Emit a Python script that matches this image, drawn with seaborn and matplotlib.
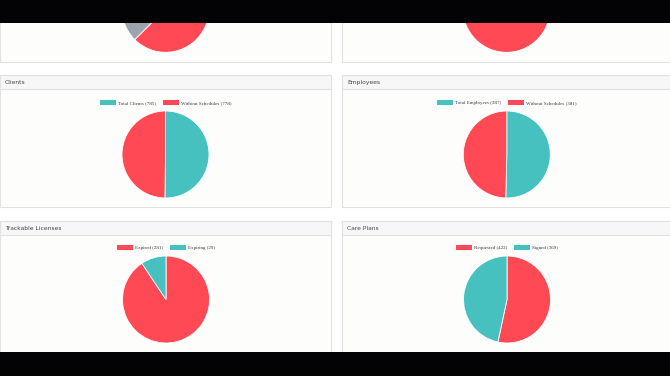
import matplotlib
matplotlib.use("Agg")
import matplotlib.pyplot as plt
from matplotlib.patches import Rectangle
import seaborn as sns

# panel data
top_left_values = [62.5, 37.5]
top_left_colors = ["red", "grey"]
top_right_values = [100]
top_right_colors = ["red"]

clients_labels = ["Total Clients (785)", "Without Schedules (778)"]
clients_values = [785, 778]
clients_colors = ["teal", "red"]

employees_labels = ["Total Employees (387)", "Without Schedules (381)"]
employees_values = [387, 381]
employees_colors = ["teal", "red"]

licenses_labels = ["Expired (281)", "Expiring (29)"]
licenses_values = [281, 29]
licenses_colors = ["red", "teal"]

careplans_labels = ["Requested (422)", "Signed (369)"]
careplans_values = [422, 369]
careplans_colors = ["red", "teal"]

palette = {"red": "#FF4A55", "teal": "#47C1BF", "grey": "#9AA3AE"}

W, H = 670, 376

sns.set_theme(style="white")
plt.rcParams['font.family'] = ['DejaVu Sans']

fig = plt.figure(figsize=(W / 100, H / 100), dpi=100)
fig.patch.set_facecolor("white")


def fbox(x0, y0, x1, y1):
    """pixel box (top-left origin) -> figure fraction [l, b, w, h]"""
    return [x0 / W, 1 - y1 / H, (x1 - x0) / W, (y1 - y0) / H]


def panel(x0, y0, x1, y1, title=None):
    l, b, w, h = fbox(x0, y0, x1, y1)
    fig.add_artist(Rectangle((l, b), w, h, transform=fig.transFigure,
                             facecolor="#FDFDFC", edgecolor="#E2E2E2", lw=0.8, zorder=-5))
    if title is not None:
        l, b, w, h = fbox(x0, y0, x1, y0 + 14)
        fig.add_artist(Rectangle((l, b), w, h, transform=fig.transFigure,
                                 facecolor="#F7F7F8", edgecolor="#E2E2E2", lw=0.8, zorder=-4))
        fig.text((x0 + 5) / W, 1 - (y0 + 7.5) / H, title, fontsize=4.3, color="#444444",
                 va="center", ha="left")


def pie(cx, cy, r, values, colors, labels=None):
    ax = fig.add_axes(fbox(cx - r, cy - r, cx + r, cy + r))
    ax.pie(values, colors=[palette[c] for c in colors], startangle=90, counterclock=False,
           wedgeprops=dict(edgecolor="white", linewidth=0.6))
    ax.set_xlim(-1, 1)
    ax.set_ylim(-1, 1)
    ax.set_aspect("equal")
    ax.axis("off")
    if labels is not None:
        handles = [Rectangle((0, 0), 1, 1, facecolor=palette[c], edgecolor="none") for c in colors]
        ax.legend(handles, labels, loc="center", bbox_to_anchor=(0.5, 1 + 8.5 / (2 * r)),
                  ncol=len(labels), frameon=False, handlelength=3.2, handleheight=1.0,
                  handletextpad=0.4, columnspacing=1.5, borderpad=0,
                  prop={"family": "Liberation Serif", "size": 3.6}, labelcolor="#3A3A3A")
    return ax


# panels
panel(0, 10, 331, 62)
panel(342, 10, 672, 62)
panel(0, 75, 331, 207, "Clients")
panel(342, 75, 672, 207, "Employees")
panel(0, 221, 331, 360, "Trackable Licenses")
panel(342, 221, 672, 360, "Care Plans")

# pies
pie(165.5, 8.8, 43.5, top_left_values, top_left_colors)
pie(506.5, 8.8, 43.5, top_right_values, top_right_colors)
pie(165.5, 154.5, 43.5, clients_values, clients_colors, clients_labels)
pie(506.8, 154.5, 43.5, employees_values, employees_colors, employees_labels)
pie(166, 299.5, 43.5, licenses_values, licenses_colors, licenses_labels)
pie(507, 299.5, 43.5, careplans_values, careplans_colors, careplans_labels)

# black letterbox bars
for y0, y1 in [(0, 23), (352, 376)]:
    l, b, w, h = fbox(0, y0, W, y1)
    fig.add_artist(Rectangle((l, b), w, h, transform=fig.transFigure,
                             facecolor="#030305", edgecolor="none", zorder=20))

fig.savefig("out.png", dpi=100, facecolor=fig.get_facecolor())
